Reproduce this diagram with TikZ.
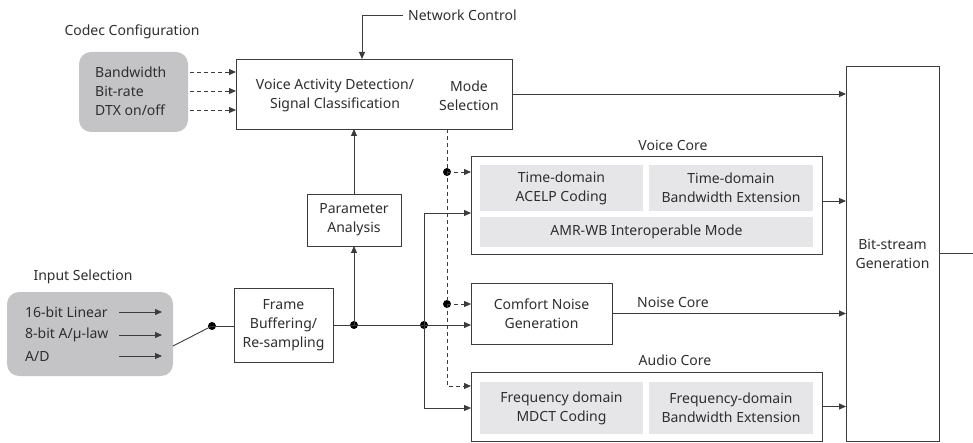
\documentclass[tikz,border=0pt]{standalone}
\usepackage{fontspec}
\setmainfont{Noto Sans}
\usetikzlibrary{positioning, arrows.meta, calc}

\definecolor{linegray}{HTML}{3C3C3C}
\definecolor{boxgray}{HTML}{C4C4C6}
\definecolor{coregray}{HTML}{E6E6E8}
\definecolor{textgray}{HTML}{2E2E2E}

\begin{document}
\begin{tikzpicture}[x=1pt, y=-1pt,
    font=\fontsize{14}{19}\selectfont, text=textgray,
    arrow/.style={-{Triangle[length=7pt, width=6pt]}, line width=0.9pt, draw=linegray},
    dasharrow/.style={arrow, dash pattern=on 4pt off 3pt},
    wire/.style={line width=0.9pt, draw=linegray},
    block/.style={draw=linegray, line width=0.9pt, fill=white, inner sep=0pt, outer sep=0pt, align=center},
    selbox/.style={fill=boxgray, rounded corners=12pt, inner sep=0pt, outer sep=0pt},
    subblock/.style={fill=coregray, inner sep=0pt, align=center},
    junction/.style={circle, fill=black, inner sep=0pt, minimum size=8pt},
    txt/.style={inner sep=0pt, align=center}
]
    \useasboundingbox (0, 0) rectangle (973, 443);

    % Codec configuration
    \node[txt] (codeclabel) at (132, 32) {Codec Configuration};
    \node[selbox, minimum width=109pt, minimum height=80pt] (codec) at (133.5, 92) {};
    \node[txt, anchor=west] (bw) at (95, 72) {Bandwidth};
    \node[txt, anchor=west] (br) at (95, 91) {Bit-rate};
    \node[txt, anchor=west] (dtx) at (95, 110) {DTX on/off};

    % Voice activity detection / mode selection
    \node[block, minimum width=276pt, minimum height=70pt] (vad) at (374, 94) {};
    \node[txt] (vadtext) at (335, 96) {Voice Activity Detection/\\Signal Classification};
    \node[txt] (mode) at (469, 96) {Mode\\Selection};
    \node[txt, anchor=west] (netctl) at (408, 15) {Network Control};

    % Bit-stream generation
    \node[block, minimum width=93pt, minimum height=375pt] (bits) at (892.5, 253.5) {Bit-stream\\Generation};
    \coordinate (out) at (973, 253.5);

    % Input selection
    \node[txt] (inlabel) at (83, 277) {Input Selection};
    \node[selbox, minimum width=166pt, minimum height=84pt] (input) at (90, 334) {};
    \node[txt, anchor=west] (lin16) at (25, 312) {16-bit Linear};
    \node[txt, anchor=west] (law8) at (25, 335) {8-bit A/µ-law};
    \node[txt, anchor=west] (ad) at (25, 356) {A/D};

    % Pre-processing
    \node[block, minimum width=99pt, minimum height=74pt] (frame) at (283.5, 325) {Frame\\Buffering/\\Re-sampling};
    \node[block, minimum width=94pt, minimum height=52pt] (param) at (354, 220) {Parameter\\Analysis};
    \node[junction] (sw) at (212, 326) {};
    \node[junction] (j1) at (354, 325) {};
    \node[junction] (j2) at (424, 325) {};

    % Voice core
    \node[txt] (voicelabel) at (673, 145) {Voice Core};
    \node[block, minimum width=351pt, minimum height=98pt] (voice) at (646.5, 205) {};
    \node[subblock, minimum width=163pt, minimum height=46pt] (acelp) at (561.5, 188) {Time-domain\\ACELP Coding};
    \node[subblock, minimum width=164pt, minimum height=46pt] (tbwe) at (731, 188) {Time-domain\\Bandwidth Extension};
    \node[subblock, minimum width=333pt, minimum height=30pt] (amr) at (646.5, 232) {AMR-WB Interoperable Mode};

    % Noise core
    \node[block, minimum width=141pt, minimum height=61pt] (cng) at (541.5, 313.5) {Comfort Noise\\Generation};
    \node[txt] (noiselabel) at (673, 302) {Noise Core};

    % Audio core
    \node[txt] (audiolabel) at (675, 360) {Audio Core};
    \node[block, minimum width=351pt, minimum height=69pt] (audio) at (646.5, 406.5) {};
    \node[subblock, minimum width=163pt, minimum height=52pt] (mdct) at (561.5, 408) {Frequency domain\\MDCT Coding};
    \node[subblock, minimum width=164pt, minimum height=52pt] (fbwe) at (731, 408) {Frequency-domain\\Bandwidth Extension};

    % Mode selection taps
    \coordinate (ms) at ($(vad.south east)+(-65, 0)$);
    \node[junction] (dv) at (ms |- 0, 172) {};
    \node[junction] (dn) at (ms |- 0, 304) {};

    % Configuration inputs
    \foreach \src in {bw, br, dtx}
        \draw[dasharrow] ($(codec.east |- \src)+(2, 0)$) -- (vad.west |- \src);
    \draw[arrow] ($(netctl.west)+(-5, 0)$) -| ($(vad.north)+(-12, 0)$);

    % Input signals
    \foreach \src in {lin16, law8, ad}
        \draw[arrow] ($(input.east |- \src)+(-54, 0)$) -- ++(43, 0);
    \draw[wire] ($(input.east)+(0, 12)$) -- (sw.center);
    \draw[wire] (sw.center) -- (frame.west |- sw);

    % Signal path
    \draw[arrow] (frame.east) -- (cng.west |- frame.east);
    \draw[arrow] (j1.center) -- (param.south);
    \draw[arrow] (param.north) -- (vad.south -| param.north);
    \draw[arrow] (j2.center) |- ($(voice.west)+(0, 8)$);
    \draw[arrow] (j2.center) |- ($(audio.west)+(0, 1.5)$);

    % Mode selection (dashed)
    \draw[dasharrow] (ms) |- ($(audio.west)+(0, -20.5)$);
    \draw[dasharrow] (dv.center) -- (voice.west |- dv);
    \draw[dasharrow] (dn.center) -- (cng.west |- dn);

    % Into bit-stream generation
    \draw[arrow] (vad.east) -- (bits.west |- vad.east);
    \draw[arrow] ($(voice.east)+(0, -4)$) -- (bits.west |- 0, 201);
    \draw[arrow] (cng.east) -- (bits.west |- cng.east);
    \draw[arrow] (audio.east) -- (bits.west |- audio.east);
    \draw[wire] (bits.east) -- (out);

\end{tikzpicture}
\end{document}
